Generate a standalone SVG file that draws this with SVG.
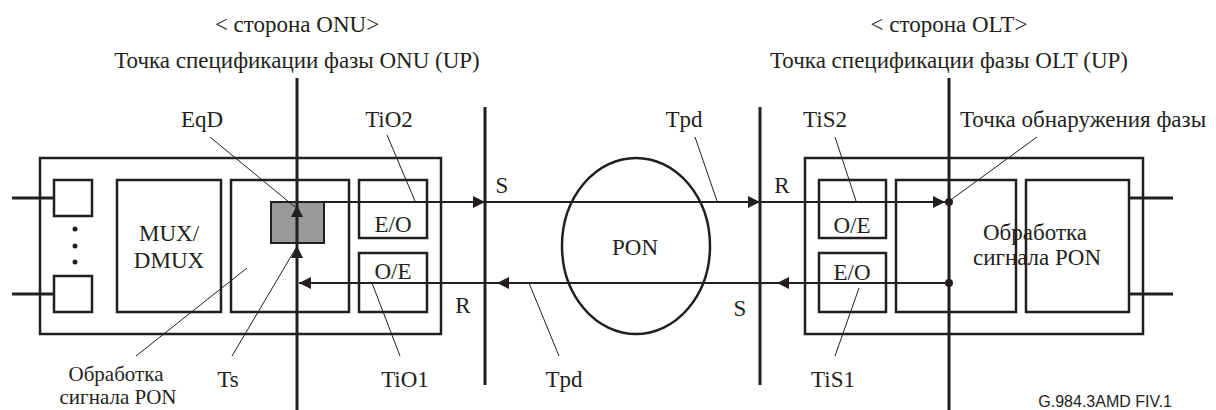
<svg xmlns="http://www.w3.org/2000/svg" width="1216" height="410" viewBox="0 0 1216 410">
<defs>
<style>
.t{font-family:"Liberation Serif","Times New Roman",serif;font-size:23px;fill:#231f20;text-anchor:middle}
.box{fill:none;stroke:#231f20;stroke-width:2.5}
.thick{stroke:#231f20;stroke-width:3;fill:none}
.sig{stroke:#231f20;stroke-width:2;fill:none}
.lead{stroke:#231f20;stroke-width:1;fill:none}
</style>
<marker id="ah" viewBox="0 0 12 12" refX="12" refY="6" markerWidth="12" markerHeight="12" markerUnits="userSpaceOnUse" orient="auto">
<path d="M0,0 L12,6 L0,12 Z" fill="#231f20"/>
</marker>
</defs>
<rect width="1216" height="410" fill="#fff"/>

<g id="headers">
<text class="t" x="297" y="32">&lt; сторона ONU&gt;</text>
<text class="t" x="297" y="68">Точка спецификации фазы ONU (UP)</text>
<text class="t" x="949" y="32">&lt; сторона OLT&gt;</text>
<text class="t" x="949" y="68">Точка спецификации фазы OLT (UP)</text>
</g>

<g id="onu">
<rect class="box" x="40" y="158" width="401" height="176"/>
<rect class="box" x="54" y="180" width="38" height="36"/>
<rect class="box" x="54" y="276" width="38" height="36"/>
<line class="thick" x1="12" y1="198" x2="54" y2="198"/>
<line class="thick" x1="12" y1="294" x2="54" y2="294"/>
<circle cx="75" cy="229" r="2.5" fill="#231f20"/>
<circle cx="75" cy="246" r="2.5" fill="#231f20"/>
<circle cx="75" cy="262" r="2.5" fill="#231f20"/>
<g id="mux">
<rect class="box" x="117" y="180" width="104" height="132"/>
<text class="t" x="169" y="241">MUX/</text>
<text class="t" x="169" y="268">DMUX</text>
</g>
<rect id="onu-proc" class="box" x="231" y="180" width="118" height="132"/>
<rect id="eqd-block" x="271" y="202" width="53" height="41" fill="#999" stroke="#231f20" stroke-width="2"/>
<g id="onu-eo">
<rect class="box" x="359" y="180" width="68" height="58"/>
<text class="t" x="393" y="232">E/O</text>
</g>
<g id="onu-oe">
<rect class="box" x="359" y="253" width="68" height="59"/>
<text class="t" x="393" y="279">O/E</text>
</g>
</g>

<g id="pon">
<ellipse cx="636" cy="246" rx="74" ry="88" fill="none" stroke="#231f20" stroke-width="2.5"/>
<text class="t" x="635" y="255">PON</text>
</g>

<g id="olt">
<rect class="box" x="805" y="158" width="338" height="176"/>
<g id="olt-oe">
<rect class="box" x="819" y="180" width="67" height="58"/>
<text class="t" x="852" y="233">O/E</text>
</g>
<g id="olt-eo">
<rect class="box" x="819" y="253" width="67" height="59"/>
<text class="t" x="852" y="280">E/O</text>
</g>
<rect class="box" x="896" y="180" width="120" height="132"/>
<rect class="box" x="1026" y="180" width="103" height="132"/>
<line class="thick" x1="1129" y1="198" x2="1173" y2="198"/>
<line class="thick" x1="1129" y1="294" x2="1173" y2="294"/>
<text class="t" x="1035" y="240">Обработка</text>
<text class="t" x="1037" y="265">сигнала PON</text>
</g>

<g id="connectors">
<line class="thick" x1="297" y1="78" x2="297" y2="410"/>
<line class="thick" x1="485" y1="107" x2="485" y2="385"/>
<line class="thick" x1="760" y1="107" x2="760" y2="385"/>
<line class="thick" x1="949" y1="78" x2="949" y2="410"/>
<line class="sig" x1="324" y1="202" x2="485" y2="202" marker-end="url(#ah)"/>
<line class="sig" x1="485" y1="202" x2="760" y2="202" marker-end="url(#ah)"/>
<line class="sig" x1="760" y1="202" x2="945" y2="202" marker-end="url(#ah)"/>
<line class="sig" x1="949" y1="283" x2="777" y2="283" marker-end="url(#ah)"/>
<line class="sig" x1="777" y1="283" x2="497" y2="283" marker-end="url(#ah)"/>
<line class="sig" x1="497" y1="283" x2="299" y2="283" marker-end="url(#ah)"/>
<line class="sig" x1="297" y1="230" x2="297" y2="205" marker-end="url(#ah)"/>
<line class="sig" x1="297" y1="270" x2="297" y2="246" marker-end="url(#ah)"/>
<circle cx="949" cy="202" r="4" fill="#231f20"/>
<circle cx="949" cy="283" r="4" fill="#231f20"/>
<line class="lead" x1="210" y1="137" x2="295" y2="207"/>
<line class="lead" x1="387" y1="135" x2="415" y2="201"/>
<line class="lead" x1="372" y1="283" x2="400" y2="356"/>
<line class="lead" x1="136" y1="356" x2="247" y2="268"/>
<line class="lead" x1="232" y1="356" x2="296" y2="248"/>
<line class="lead" x1="695" y1="137" x2="717" y2="201"/>
<line class="lead" x1="529" y1="283" x2="559" y2="356"/>
<line class="lead" x1="835" y1="137" x2="856" y2="201"/>
<line class="lead" x1="859" y1="288" x2="835" y2="356"/>
<line class="lead" x1="1037" y1="137" x2="952" y2="199"/>
</g>

<g id="labels">
<text class="t" x="202" y="127">EqD</text>
<text class="t" x="389" y="127">TiO2</text>
<text class="t" x="684" y="127">Tpd</text>
<text class="t" x="825" y="127">TiS2</text>
<text class="t" x="960" y="127" style="text-anchor:start">Точка обнаружения фазы</text>
<text class="t" x="502" y="193">S</text>
<text class="t" x="782" y="193">R</text>
<text class="t" x="463" y="313">R</text>
<text class="t" x="740" y="316">S</text>
<text class="t" x="116" y="381" style="font-size:21px">Обработка</text>
<text class="t" x="118" y="404" style="font-size:21px">сигнала PON</text>
<text class="t" x="228" y="387">Ts</text>
<text class="t" x="405" y="387">TiO1</text>
<text class="t" x="564" y="387">Tpd</text>
<text class="t" x="833" y="387">TiS1</text>
<text x="1172" y="407" style="font-family:'Liberation Sans',Arial,sans-serif;font-size:16px;fill:#231f20;text-anchor:end">G.984.3AMD  FIV.1</text>
</g>
</svg>
